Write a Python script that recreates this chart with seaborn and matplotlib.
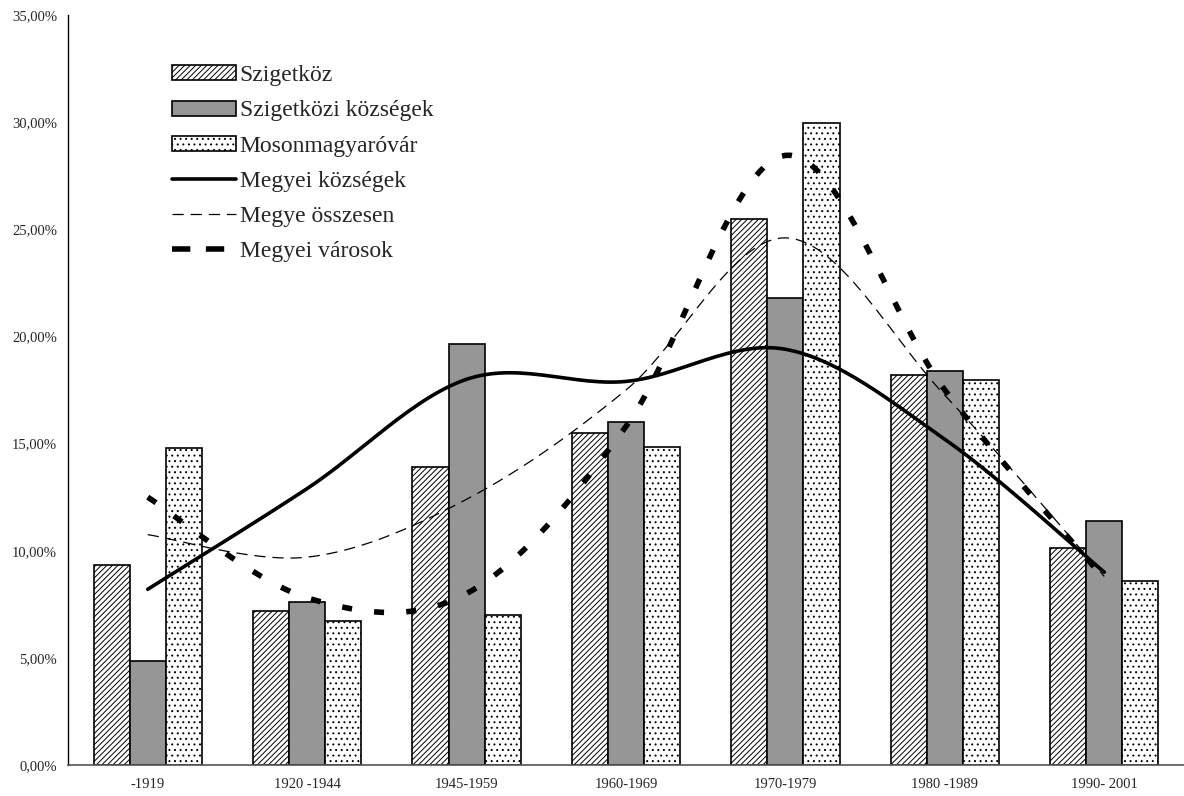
import numpy as np
import pandas as pd
import matplotlib
matplotlib.use("Agg")
import matplotlib.pyplot as plt
import seaborn as sns
from matplotlib.patches import Patch
from matplotlib.lines import Line2D
from matplotlib.ticker import FuncFormatter, MultipleLocator

periods = ["-1919", "1920 -1944", "1945-1959", "1960-1969", "1970-1979", "1980 -1989", "1990- 2001"]
szigetkoz = [9.35, 7.2, 13.9, 15.5, 25.5, 18.2, 10.15]
szigetkozi_kozsegek = [4.85, 7.6, 19.65, 16.0, 21.8, 18.4, 11.4]
mosonmagyarovar = [14.8, 6.7, 7.0, 14.85, 29.95, 17.95, 8.6]
megyei_kozsegek = [8.2, 12.9, 18.0, 17.9, 19.4, 15.2, 9.0]
megye_osszesen = [10.75, 9.7, 12.4, 17.5, 24.6, 17.25, 8.8]
megyei_varosok = [12.5, 7.8, 8.0, 15.8, 28.45, 17.5, 8.7]

bar_series = ["Szigetköz", "Szigetközi községek", "Mosonmagyaróvár"]
line_series = ["Megyei községek", "Megye összesen", "Megyei városok"]

sns.set_theme(style="white")
plt.rcParams['font.family'] = ['Liberation Serif', 'DejaVu Serif']
plt.rcParams['hatch.linewidth'] = 0.7
plt.rcParams['hatch.color'] = 'black'

fig = plt.figure(figsize=(11.84, 7.96), dpi=100)
ax = fig.add_axes([68/1184, 1-765/796, 1-68/1184, (765-15)/796])

df = pd.DataFrame({
    "period": periods * 3,
    "value": szigetkoz + szigetkozi_kozsegek + mosonmagyarovar,
    "series": [bar_series[0]] * 7 + [bar_series[1]] * 7 + [bar_series[2]] * 7,
})
face = ["white", "#969696", "white"]
hatches = ["//////", "", "..."]
sns.barplot(data=df, x="period", y="value", hue="series", hue_order=bar_series,
            palette=dict(zip(bar_series, face)), saturation=1, width=0.68,
            edgecolor="black", linewidth=1.2, legend=False, ax=ax)
for cont, h, fc in zip(ax.containers, hatches, face):
    for p in cont:
        p.set_hatch(h)
        p.set_facecolor(fc)
        p.set_edgecolor("black")


def smooth(vals, n=30):
    y = np.asarray(vals, float)
    x = np.arange(len(y), dtype=float)
    xs, ys = [], []
    for i in range(len(y) - 1):
        p0 = (x[i-1], y[i-1]) if i > 0 else (x[i], y[i])
        p1 = (x[i], y[i]); p2 = (x[i+1], y[i+1])
        p3 = (x[i+2], y[i+2]) if i + 2 < len(y) else (x[i+1], y[i+1])
        c1 = (p1[0] + (p2[0]-p0[0])/6, p1[1] + (p2[1]-p0[1])/6)
        c2 = (p2[0] - (p3[0]-p1[0])/6, p2[1] - (p3[1]-p1[1])/6)
        t = np.linspace(0, 1, n, endpoint=(i == len(y) - 2))
        bx = (1-t)**3*p1[0] + 3*(1-t)**2*t*c1[0] + 3*(1-t)*t**2*c2[0] + t**3*p2[0]
        by = (1-t)**3*p1[1] + 3*(1-t)**2*t*c1[1] + 3*(1-t)*t**2*c2[1] + t**3*p2[1]
        xs.extend(bx); ys.extend(by)
    return np.array(xs), np.array(ys)

line_styles = [
    dict(color="black", linewidth=2.6, linestyle="-"),
    dict(color="black", linewidth=0.9, linestyle=(0, (9, 5.5))),
    dict(color="black", linewidth=4.0, linestyle=(0, (1.8, 4.0))),
]
legend_line_styles = [
    line_styles[0],
    line_styles[1],
    dict(color="black", linewidth=4.0, linestyle=(0, (3.3, 2.8))),
]
for vals, st in zip([megyei_kozsegek, megye_osszesen, megyei_varosok], line_styles):
    xs, ys = smooth(vals)
    sns.lineplot(x=xs, y=ys, sort=False, estimator=None, ax=ax, **st)

ax.set_ylim(0, 35)
ax.set_xlim(-0.5, 6.5)
ax.yaxis.set_major_locator(MultipleLocator(5))
ax.yaxis.set_major_formatter(FuncFormatter(lambda v, p: f"{v:.2f}".replace(".", ",") + "%"))
ax.set_xticks(np.arange(-0.5, 7.0, 1.0), minor=True)
ax.set_xticks(range(7))
ax.set_xticklabels(periods)
ax.tick_params(axis="x", which="major", length=0, labelsize=10.5, pad=9)
ax.tick_params(axis="x", which="minor", length=8, direction="inout", color="#444444", width=1)
ax.tick_params(axis="y", which="major", length=8, direction="inout", labelsize=10.5, color="black", width=1, pad=4)
ax.set_xlabel(""); ax.set_ylabel("")
for s in ["top", "right"]:
    ax.spines[s].set_visible(False)
ax.spines["left"].set_color("black")
ax.spines["left"].set_linewidth(1)
ax.spines["bottom"].set_color("#555555")
ax.spines["bottom"].set_linewidth(1.2)

handles = [
    Patch(facecolor="white", edgecolor="black", hatch="//////", linewidth=1.2),
    Patch(facecolor="#969696", edgecolor="black", linewidth=1.2),
    Patch(facecolor="white", edgecolor="black", hatch="...", linewidth=1.2),
    Line2D([], [], **legend_line_styles[0]),
    Line2D([], [], **legend_line_styles[1]),
    Line2D([], [], **legend_line_styles[2]),
]
ax.legend(handles, bar_series + line_series, loc="upper left", bbox_to_anchor=(0.093, 0.933),
          frameon=False, fontsize=17, handlelength=2.7, handleheight=0.6,
          handletextpad=0.17, labelspacing=0.6, borderaxespad=0, borderpad=0)

fig.savefig("out.png", dpi=100)
